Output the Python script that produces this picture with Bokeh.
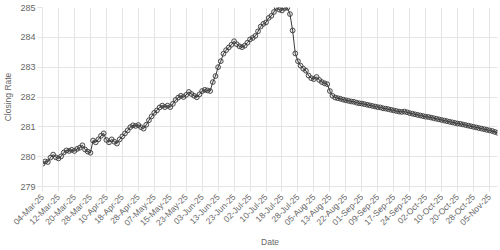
import math
from bokeh.plotting import figure
from bokeh.models import Range1d, FixedTicker
from bokeh.embed import file_html
from bokeh.resources import INLINE

tick_labels = ["04-Mar-25", "12-Mar-25", "20-Mar-25", "28-Mar-25", "10-Apr-25", "18-Apr-25",
               "28-Apr-25", "07-May-25", "15-May-25", "23-May-25", "03-Jun-25", "13-Jun-25",
               "23-Jun-25", "02-Jul-25", "10-Jul-25", "18-Jul-25", "28-Jul-25", "05-Aug-25",
               "13-Aug-25", "22-Aug-25", "01-Sep-25", "09-Sep-25", "17-Sep-25", "24-Sep-25",
               "02-Oct-25", "10-Oct-25", "20-Oct-25", "28-Oct-25", "05-Nov-25"]
label_every = 6

closing_rate = [
    279.76, 279.84, 279.82, 279.97, 280.07, 279.98, 279.94, 280.01, 280.14, 280.21,
    280.19, 280.23, 280.19, 280.26, 280.30, 280.38, 280.24, 280.17, 280.13, 280.54,
    280.48, 280.58, 280.70, 280.78, 280.56, 280.48, 280.58, 280.50, 280.44, 280.58,
    280.68, 280.78, 280.88, 280.99, 281.05, 281.03, 281.06, 280.99, 280.94, 281.07,
    281.22, 281.35, 281.47, 281.55, 281.65, 281.71, 281.66, 281.71, 281.66, 281.77,
    281.90, 281.98, 282.04, 282.00, 282.07, 282.17, 282.10, 282.04, 281.99, 282.09,
    282.20, 282.24, 282.22, 282.20, 282.50, 282.70, 283.00, 283.20, 283.45, 283.57,
    283.66, 283.75, 283.87, 283.77, 283.70, 283.67, 283.72, 283.82, 283.93, 283.98,
    284.05, 284.20, 284.36, 284.45, 284.50, 284.65, 284.72, 284.85, 284.99, 284.93,
    284.90, 284.98, 284.99, 284.78, 284.23, 283.46, 283.20, 283.05, 282.95, 282.88,
    282.72, 282.63, 282.60, 282.67, 282.57, 282.50, 282.46, 282.43, 282.20, 282.04,
    281.98, 281.96, 281.94, 281.91, 281.89, 281.87, 281.85, 281.84, 281.81, 281.79,
    281.78, 281.76, 281.74, 281.72, 281.70, 281.68, 281.66, 281.65, 281.62, 281.61,
    281.59, 281.57, 281.55, 281.53, 281.51, 281.50, 281.51, 281.49, 281.46, 281.44,
    281.42, 281.40, 281.38, 281.36, 281.34, 281.33, 281.31, 281.29, 281.27, 281.25,
    281.23, 281.21, 281.19, 281.17, 281.15, 281.13, 281.11, 281.10, 281.08, 281.06,
    281.04, 281.02, 281.00, 280.98, 280.96, 280.94, 280.92, 280.90, 280.88, 280.86,
    280.83, 280.80,
]
y_ticks = [279, 280, 281, 282, 283, 284, 285]

x_idx = list(range(len(closing_rate)))

p = figure(width=500, height=250, output_backend="svg", toolbar_location=None,
           x_range=Range1d(0, len(closing_rate) - 1), y_range=Range1d(279, 285),
           min_border_left=39, min_border_right=3, min_border_top=7, min_border_bottom=40)
p.outline_line_color = None
p.background_fill_color = "white"
p.border_fill_color = "white"

p.line(x_idx, closing_rate, line_color="#3a3a3a", line_width=1)
p.scatter(x_idx, closing_rate, size=4.8, line_color="#3a3a3a", line_width=0.9,
          fill_color="#000000", fill_alpha=0.08)

grid_col = "#e4e4e4"
p.xgrid.grid_line_color = grid_col
p.ygrid.grid_line_color = grid_col
p.xaxis.ticker = FixedTicker(ticks=[i * label_every for i in range(len(tick_labels))])
p.xaxis.major_label_overrides = {i * label_every: lbl for i, lbl in enumerate(tick_labels)}
p.xaxis.major_label_orientation = math.pi / 4
p.yaxis.ticker = FixedTicker(ticks=y_ticks)

for ax in (p.xaxis[0], p.yaxis[0]):
    ax.axis_line_color = grid_col
    ax.major_tick_line_color = grid_col
    ax.major_tick_out = 5
    ax.major_tick_in = 0
    ax.minor_tick_line_color = None
    ax.major_label_text_color = "#666666"
    ax.major_label_text_font = "Liberation Sans"
    ax.axis_label_text_color = "#666666"
    ax.axis_label_text_font = "Liberation Sans"
    ax.axis_label_text_font_style = "normal"
    ax.axis_label_text_font_size = "8.5px"
    ax.major_label_standoff = 2
    ax.axis_label_standoff = 4

p.xaxis.major_label_text_font_size = "8.5px"
p.xaxis.major_label_standoff = 4
p.xaxis.axis_label_standoff = 3
p.yaxis.major_label_text_font_size = "9px"
p.xaxis.axis_label = "Date"
p.yaxis.axis_label = "Closing Rate"

open("out.html", "w").write(file_html(p, INLINE))
